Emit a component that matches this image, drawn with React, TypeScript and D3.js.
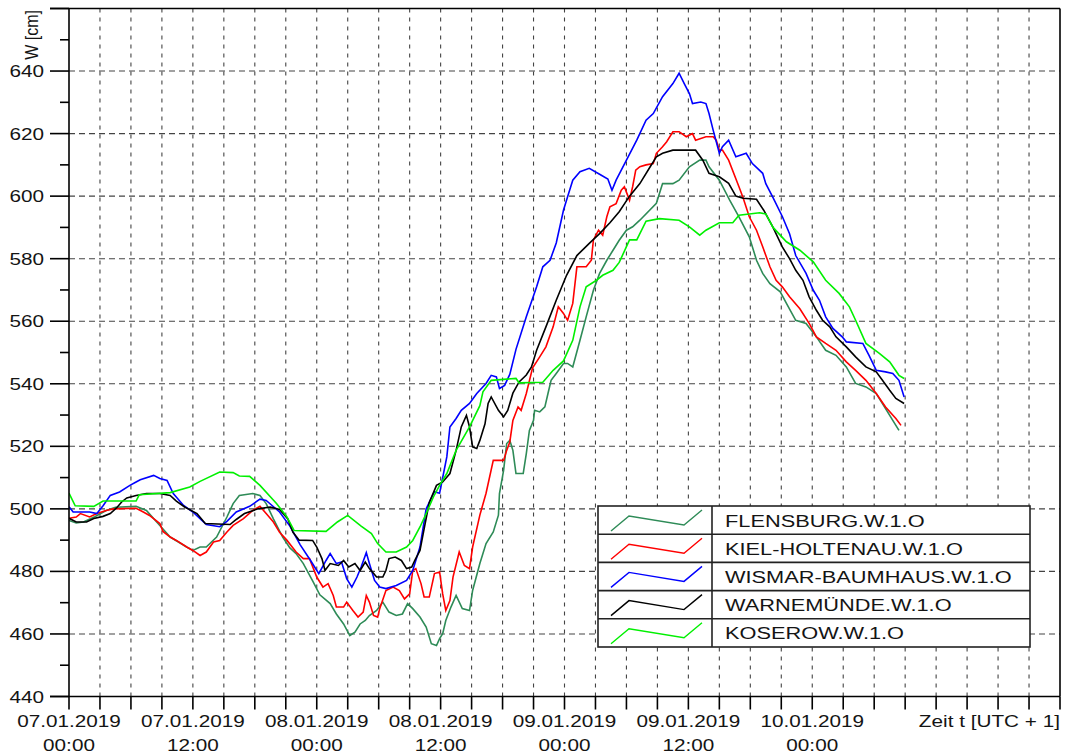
import React from "react";
import * as d3 from "d3";

// hours since 07.01.2019 00:00 (UTC+1), water level W [cm]
const flensburg: [number, number][] = [
  [0,496.3],[0.7,495.5],[1.4,495.8],[2.5,497.5],[3.6,499.5],[4.5,500.5],[6.5,500.8],[7.5,499.5],[8.8,494.7],[9.8,491],
  [11.4,487.8],[12.0,486.7],[12.7,487.8],[13.3,487.8],[14.3,491],[15.3,497.4],[15.9,501.7],[16.5,504.3],[17.8,504.9],[18.5,504.3],
  [19.1,501.7],[19.8,496.8],[20.7,491],[21.4,487.5],[22.0,485.7],[22.7,482.5],[23.6,477],[24.3,472.5],[25.3,469.7],[25.9,466.4],
  [26.6,463.2],[27.2,459.5],[27.7,460.6],[28.2,463.2],[28.7,464.3],[29.1,465.9],[29.8,467.5],[30.4,470.2],[31.0,467],[31.7,465.9],
  [32.3,466.4],[32.8,469.7],[33.3,468.1],[34.0,465.4],[34.6,462.2],[35.1,456.9],[35.6,456.3],[35.9,458.5],[36.2,460.1],[36.5,464.3],
  [37.0,468.6],[37.5,472.3],[38.1,468.1],[38.8,467.5],[39.1,473.9],[39.8,482.5],[40.4,488.9],[41.1,492.6],[41.6,498],[41.7,504.9],
  [42.1,512.3],[42.4,520.9],[42.7,521.9],[43.0,518.7],[43.3,511.3],[44.0,511.3],[44.3,517.7],[44.6,525.1],[45.0,528.3],[45.1,531.5],
  [45.6,531],[46.1,532.6],[46.4,536.9],[46.7,541.1],[47.2,543.3],[47.9,546.5],[48.3,546.5],[48.8,545.4],[49.5,553.9],[50.1,561.4],
  [50.8,569.9],[51.4,575.3],[52.1,579.5],[52.7,582.7],[53.3,585.9],[54.0,589.1],[54.6,590.2],[55.3,592.3],[56.9,597.7],[57.5,604],
  [58.5,604],[59.1,605.1],[60.1,609.4],[61.1,611.5],[61.7,611.5],[62.0,609.4],[63.0,605.1],[64.0,598.7],[64.9,593.4],[65.9,587],
  [66.6,579.5],[67.2,575.3],[67.9,572],[68.9,569.4],[69.5,565.7],[70.4,560.3],[71.4,559.3],[72.4,555],[73.3,550.7],[74.3,549.1],
  [75.3,545.4],[76.2,540.1],[77.2,539],[78.2,536.9],[78.8,533.7],[79.8,528.3],[80.4,525.1],
];

const kielHoltenau: [number, number][] = [
  [0,497],[0.7,497.4],[1.1,498.5],[2.0,497.4],[2.7,498.5],[3.6,499.5],[4.3,500],[6.5,500.2],[7.2,499],[7.8,497.9],
  [8.8,495.3],[9.1,492.8],[9.8,491],[10.4,489.9],[11.4,487.8],[12.0,486.7],[12.7,485.1],[13.3,486.2],[14.0,489.4],[14.6,489.9],
  [15.3,492.6],[15.9,494.7],[16.9,496.9],[17.8,499.5],[18.5,500.8],[19.1,498.5],[19.8,495.8],[20.4,492.5],[21.1,490],[22.0,486.2],
  [22.7,484.1],[23.3,484.1],[24.0,478.2],[24.6,475],[25.1,476.1],[25.6,472.3],[25.9,468.6],[26.6,468.6],[26.9,470.2],[27.5,467.5],
  [28.0,465.4],[28.5,467],[28.8,472.3],[29.1,470.2],[29.5,465.9],[29.9,465.4],[30.1,468.1],[30.7,473.9],[31.4,475],[32.0,473.9],
  [32.5,471.2],[33.0,472.8],[33.3,480.3],[33.6,480.9],[34.1,476.1],[34.4,471.8],[34.9,471.8],[35.4,479.3],[35.9,479.8],[36.2,472.8],
  [36.5,467.5],[36.9,470.7],[37.2,478.2],[37.8,486.2],[38.3,481.9],[38.8,480.9],[39.1,487.8],[39.8,498],[40.4,505],[41.1,515.5],
  [42.1,515.5],[42.4,518.7],[42.7,521.4],[43.0,528.3],[43.5,532.6],[43.8,531.5],[44.3,536.9],[44.9,545],[45.6,548.6],[46.2,551.8],
  [46.9,558.2],[47.4,564.6],[47.9,562.5],[48.3,560.3],[48.8,565.7],[49.2,577.4],[50.1,577.4],[50.6,579.5],[50.8,586],[51.3,589.1],
  [51.7,587.5],[52.1,593.4],[52.4,596.6],[53.0,597.6],[53.5,601.9],[53.8,603],[54.1,600.4],[54.3,598.7],[54.6,603],[54.9,608.3],
  [55.3,609.4],[55.9,610],[56.6,610.4],[56.9,613.7],[57.5,615.8],[57.9,617.4],[58.5,620.6],[59.1,620.6],[59.8,619],[60.4,620],
  [60.7,617.9],[61.7,619],[62.4,619],[62.7,617.9],[63.0,614.7],[63.3,614.7],[63.9,611.5],[64.9,603],[65.3,599.5],[65.9,593.4],
  [66.6,589.1],[67.2,583.8],[67.9,577.4],[68.5,573.1],[69.1,571],[69.8,567.8],[70.8,564],[71.7,559.3],[72.4,555],[73.3,552.9],
  [74.3,550.7],[75.3,547],[76.2,544.3],[77.2,541.1],[78.2,536.9],[79.1,532.6],[80.1,528.9],[80.6,526.7],
];

const wismarBaumhaus: [number, number][] = [
  [0,500.7],[0.4,499],[1.1,499],[2.0,499],[2.7,498.5],[3.3,501],[4.0,504.3],[4.9,505.4],[5.9,507.5],[6.5,508.6],
  [6.9,509.3],[8.2,510.7],[8.8,509.7],[9.5,509.1],[10.1,504.9],[11.1,501.1],[12.0,499],[13.3,495],[14.6,494.3],[15.3,496],
  [16.2,499],[17.5,500.8],[18.5,503.1],[19.1,502.7],[19.7,501],[20.4,499],[21.4,494.5],[22.4,488.5],[23.4,483.5],[24.2,479.3],
  [24.9,483.5],[25.3,485.7],[25.9,482.5],[26.4,483],[26.9,477.7],[27.4,475],[27.9,478.2],[28.3,481.4],[28.8,486],[29.1,482.5],
  [29.6,477.1],[30.1,475],[30.7,474.5],[31.7,475.5],[32.7,477.1],[33.3,480.3],[34.0,487.8],[34.6,500],[35.4,505.5],[35.9,505],
  [36.6,516.6],[36.9,526.2],[37.5,528.9],[38.0,531.5],[38.8,533.7],[39.5,536.9],[40.4,540.1],[40.9,542.7],[41.4,542.2],[41.7,538.5],
  [42.2,539.5],[42.7,543],[43.3,551],[44.3,561.4],[45.3,571],[45.9,577.4],[46.6,579.5],[47.2,585],[47.9,595.5],[48.3,599.8],
  [48.8,605.1],[49.5,607.8],[50.4,608.9],[51.4,607],[52.2,605.5],[52.6,601.9],[53.0,605.1],[53.5,608.3],[54.0,611.5],[55.0,617.9],
  [55.9,624.3],[56.6,626.4],[57.5,631.8],[58.5,636],[59.1,639.3],[59.6,636],[60.1,632.8],[60.4,629.6],[61.2,630.1],[61.7,629.6],
  [62.0,626.4],[62.4,621.1],[63.0,613.7],[63.3,615.8],[63.9,617.9],[64.6,612.6],[65.6,613.7],[66.2,610.4],[67.2,607.3],[67.5,604],
  [68.2,599.5],[69.1,593.5],[69.8,588],[70.4,581],[71.4,575.3],[72.1,569.9],[72.7,566.7],[73.3,561.4],[74.0,557.7],[74.9,555],
  [75.3,553.4],[76.9,552.9],[77.5,549.1],[78.2,544.3],[79.1,543.8],[79.8,543.3],[80.4,541.1],[80.9,535.8],
];

const warnemuende: [number, number][] = [
  [0,497],[0.7,495.8],[1.7,495.8],[2.4,496.9],[3.3,497.6],[4.0,498.5],[4.6,500.3],[5.1,502.2],[5.6,503.5],[6.5,504.3],
  [7.5,504.9],[8.8,504.9],[9.8,504.3],[10.4,502.5],[11.2,500.6],[12.4,498.5],[13.2,495.3],[15.6,495],[16.2,496.6],[17.0,498.5],
  [18.3,500],[19.5,500.6],[20.4,499.8],[21.2,496.8],[21.7,492.5],[22.3,490],[23.6,489.9],[24.0,487.8],[24.5,484.1],[24.8,480.3],
  [25.3,482.5],[26.1,481.9],[26.6,483.5],[27.1,481.4],[27.7,482.5],[28.2,480.3],[28.7,483],[29.1,480.9],[29.8,478.2],[30.4,478.2],
  [30.7,480.3],[31.0,484.1],[31.6,484.6],[32.2,483.5],[32.7,480.9],[33.2,481.4],[33.5,483.5],[34.0,486.7],[34.5,495.3],[34.9,502],
  [35.6,507.5],[36.2,508.6],[36.9,511.3],[37.5,518.7],[38.0,526.2],[38.5,529.9],[38.8,526.2],[39.1,519.8],[39.5,519.3],[39.8,521.9],
  [40.3,527.2],[40.6,533.7],[40.9,535.8],[41.6,531.5],[42.1,529.4],[42.5,531.5],[43.0,537],[43.6,540.6],[44.3,542.8],[44.8,545.4],
  [45.3,550.7],[46.2,558.2],[47.2,566.7],[48.2,574.7],[49.2,581],[50.4,584.9],[51.4,588],[52.4,591.5],[53.3,595],[54.3,600],
  [55.3,604],[56.3,609.4],[56.9,612.6],[57.5,613.7],[58.5,614.7],[60.7,614.7],[61.4,611.5],[62.0,607.3],[63.0,606.2],[63.9,604.1],
  [64.6,600],[65.3,599.3],[66.6,599],[67.3,595.5],[68.2,590],[69.1,583.8],[69.8,580],[70.4,576.3],[71.1,573.1],[71.7,567.8],
  [72.4,563.5],[73.0,560.3],[73.7,558.2],[74.3,555],[75.3,551.8],[76.2,548.6],[77.2,545.4],[78.2,543.8],[78.8,541.1],[79.5,537.9],
  [80.1,535.3],[80.9,533.7],
];

const koserow: [number, number][] = [
  [0,505],[0.6,501],[2.4,500.8],[3.3,502.5],[6.5,502.5],[6.8,504.5],[9.8,505.2],[11.7,507],[12.7,508.8],[14.6,511.8],
  [15.9,511.6],[16.5,510.5],[17.5,510.4],[18.5,507.5],[20.1,501.7],[21.1,497.5],[21.8,493.1],[24.9,492.8],[26.0,495.8],[27.0,497.9],
  [28.3,494.5],[29.3,492.1],[29.9,488.9],[30.7,486.2],[31.7,486.2],[32.7,487.8],[33.3,489.9],[34.0,494.2],[34.6,498.5],[35.3,503.8],
  [35.9,507.5],[36.6,511.3],[37.5,518.7],[38.8,526.2],[39.8,533],[40.1,537.4],[40.9,541.1],[43.3,541.7],[43.6,540.3],[45.9,540.5],
  [46.9,544.3],[47.9,547.3],[48.8,553.9],[49.5,564.6],[50.1,571],[51.1,573.1],[51.7,574.7],[52.7,576.3],[53.3,578.8],[54.3,586],
  [55.0,586],[55.9,592],[57.2,592.8],[59.1,592.3],[60.1,590.2],[61.1,587.5],[61.7,589.1],[63.0,591.5],[64.3,591.5],[64.9,593.9],
  [66.9,594.7],[67.5,594.3],[68.2,590],[69.5,585.4],[70.8,582.7],[72.1,579],[73.3,573.1],[74.6,568.9],[75.6,564.6],[76.2,560.3],
  [77.2,552.9],[78.5,549.7],[79.5,547],[80.4,542.7],[80.9,541.7],
];

const seriesNames = ["FLENSBURG.W.1.O", "KIEL-HOLTENAU.W.1.O", "WISMAR-BAUMHAUS.W.1.O", "WARNEMÜNDE.W.1.O", "KOSEROW.W.1.O"];
const seriesColors = ["#2e8b57", "#ff0000", "#0000ff", "#000000", "#00f000"];
const seriesData = [flensburg, kielHoltenau, wismarBaumhaus, warnemuende, koserow];

const yTicksMajor = [440, 460, 480, 500, 520, 540, 560, 580, 600, 620, 640, 660];
const yTickLabels = ["440", "460", "480", "500", "520", "540", "560", "580", "600", "620", "640", ""];
const xLabelHours = [0, 12, 24, 36, 48, 60, 72];
const xLabelDates = ["07.01.2019", "07.01.2019", "08.01.2019", "08.01.2019", "09.01.2019", "09.01.2019", "10.01.2019"];
const xLabelTimes = ["00:00", "12:00", "00:00", "12:00", "00:00", "12:00", "00:00"];

const T0 = Date.UTC(2019, 0, 7, 0, 0);
const HOUR = 3600e3;

const W = 1066, H = 756;
const L = 69, R = 1060, T = 8.5, B = 696.5;
const FONT = "'Liberation Sans', Arial, sans-serif";
const TXT = "#141414";
const SX = 1.22;

export default function App() {
  const x = d3.scaleUtc().domain([new Date(T0), new Date(T0 + 96 * HOUR)]).range([L, R]);
  const y = d3.scaleLinear().domain([440, 660]).range([B, T]);
  const line = d3.line<[number, number]>()
    .x((d) => x(new Date(T0 + d[0] * HOUR)))
    .y((d) => y(d[1]))
    .curve(d3.curveLinear);

  const gridHours = d3.range(3, 96, 3);
  const allTickHours = d3.range(0, 97, 3);
  const minorY = d3.range(450, 660, 20);

  const lg = { x: 598, y: 506, w: 432, rh: 28.2, div: 114 };

  return (
    <svg width={W} height={H} style={{ position: "absolute", left: 0, top: 0, background: "#fff" }} fontFamily={FONT}>
      <rect x={0} y={0} width={W} height={H} fill="#fff" />
      {yTicksMajor.filter((v) => v > 440 && v < 660).map((v) => (
        <line key={"hg" + v} x1={L} x2={R} y1={y(v)} y2={y(v)} stroke="#444" strokeWidth={1.1} strokeDasharray="6,4" />
      ))}
      {gridHours.map((h) => (
        <line key={"vg" + h} x1={x(new Date(T0 + h * HOUR))} x2={x(new Date(T0 + h * HOUR))} y1={T} y2={B}
          stroke="#444" strokeWidth={1.1} strokeDasharray="4,5" />
      ))}
      <defs>
        <clipPath id="clip"><rect x={L} y={T} width={R - L} height={B - T} /></clipPath>
      </defs>
      <g clipPath="url(#clip)">
        {seriesData.map((d, i) => (
          <path key={"s" + i} d={line(d) || ""} fill="none" stroke={seriesColors[i]} strokeWidth={1.6} strokeLinejoin="miter" />
        ))}
      </g>
      <line x1={L} x2={L} y1={T} y2={B} stroke="#000" strokeWidth={1.6} />
      <line x1={R} x2={R} y1={T} y2={B} stroke="#000" strokeWidth={1.6} />
      <line x1={50} x2={R} y1={T} y2={T} stroke="#000" strokeWidth={1.6} />
      <line x1={50} x2={R} y1={B} y2={B} stroke="#000" strokeWidth={1.6} />
      {yTicksMajor.map((v) => (
        <line key={"yt" + v} x1={50} x2={L} y1={y(v)} y2={y(v)} stroke="#000" strokeWidth={1.6} />
      ))}
      {minorY.map((v) => (
        <line key={"ym" + v} x1={60} x2={L} y1={y(v)} y2={y(v)} stroke="#000" strokeWidth={1.6} />
      ))}
      {allTickHours.map((h) => (
        <line key={"xt" + h} x1={x(new Date(T0 + h * HOUR))} x2={x(new Date(T0 + h * HOUR))} y1={B} y2={B + 13}
          stroke="#000" strokeWidth={1.6} />
      ))}
      {yTicksMajor.map((v, i) => (
        <text key={"yl" + v} transform={`translate(44,${y(v) + 6}) scale(${SX},1)`} textAnchor="end" fontSize={17} fill={TXT}>
          {yTickLabels[i]}
        </text>
      ))}
      <text transform={`translate(38,10) rotate(-90) scale(1,1.2)`} textAnchor="end" fontSize={16} fill={TXT}>W [cm]</text>
      {xLabelHours.map((h, i) => {
        const px = x(new Date(T0 + h * HOUR));
        return (
          <g key={"xl" + h}>
            <text transform={`translate(${px},727) scale(${SX},1)`} textAnchor="middle" fontSize={17} fill={TXT}>{xLabelDates[i]}</text>
            <text transform={`translate(${px},751) scale(${SX},1)`} textAnchor="middle" fontSize={17} fill={TXT}>{xLabelTimes[i]}</text>
          </g>
        );
      })}
      <text transform={`translate(${R},727) scale(${SX},1)`} textAnchor="end" fontSize={17} fill={TXT}>Zeit t [UTC + 1]</text>
      <g>
        <rect x={lg.x} y={lg.y} width={lg.w} height={lg.rh * 5} fill="#fff" stroke="#222" strokeWidth={1.6} />
        <line x1={lg.x + lg.div} x2={lg.x + lg.div} y1={lg.y} y2={lg.y + lg.rh * 5} stroke="#222" strokeWidth={1.6} />
        {seriesNames.map((n, i) => {
          const ry = lg.y + i * lg.rh;
          const sym = `M${lg.x + 13},${ry + 25} L${lg.x + 31},${ry + 10} L${lg.x + 86},${ry + 19} L${lg.x + 104},${ry + 4}`;
          return (
            <g key={"lg" + i}>
              {i > 0 && <line x1={lg.x} x2={lg.x + lg.w} y1={ry} y2={ry} stroke="#222" strokeWidth={1.6} />}
              <path d={sym} fill="none" stroke={seriesColors[i]} strokeWidth={1.4} />
              <text transform={`translate(${lg.x + 127},${ry + 20.5}) scale(1.32,1)`} fontSize={16.5} fill={TXT}>{n}</text>
            </g>
          );
        })}
      </g>
    </svg>
  );
}
